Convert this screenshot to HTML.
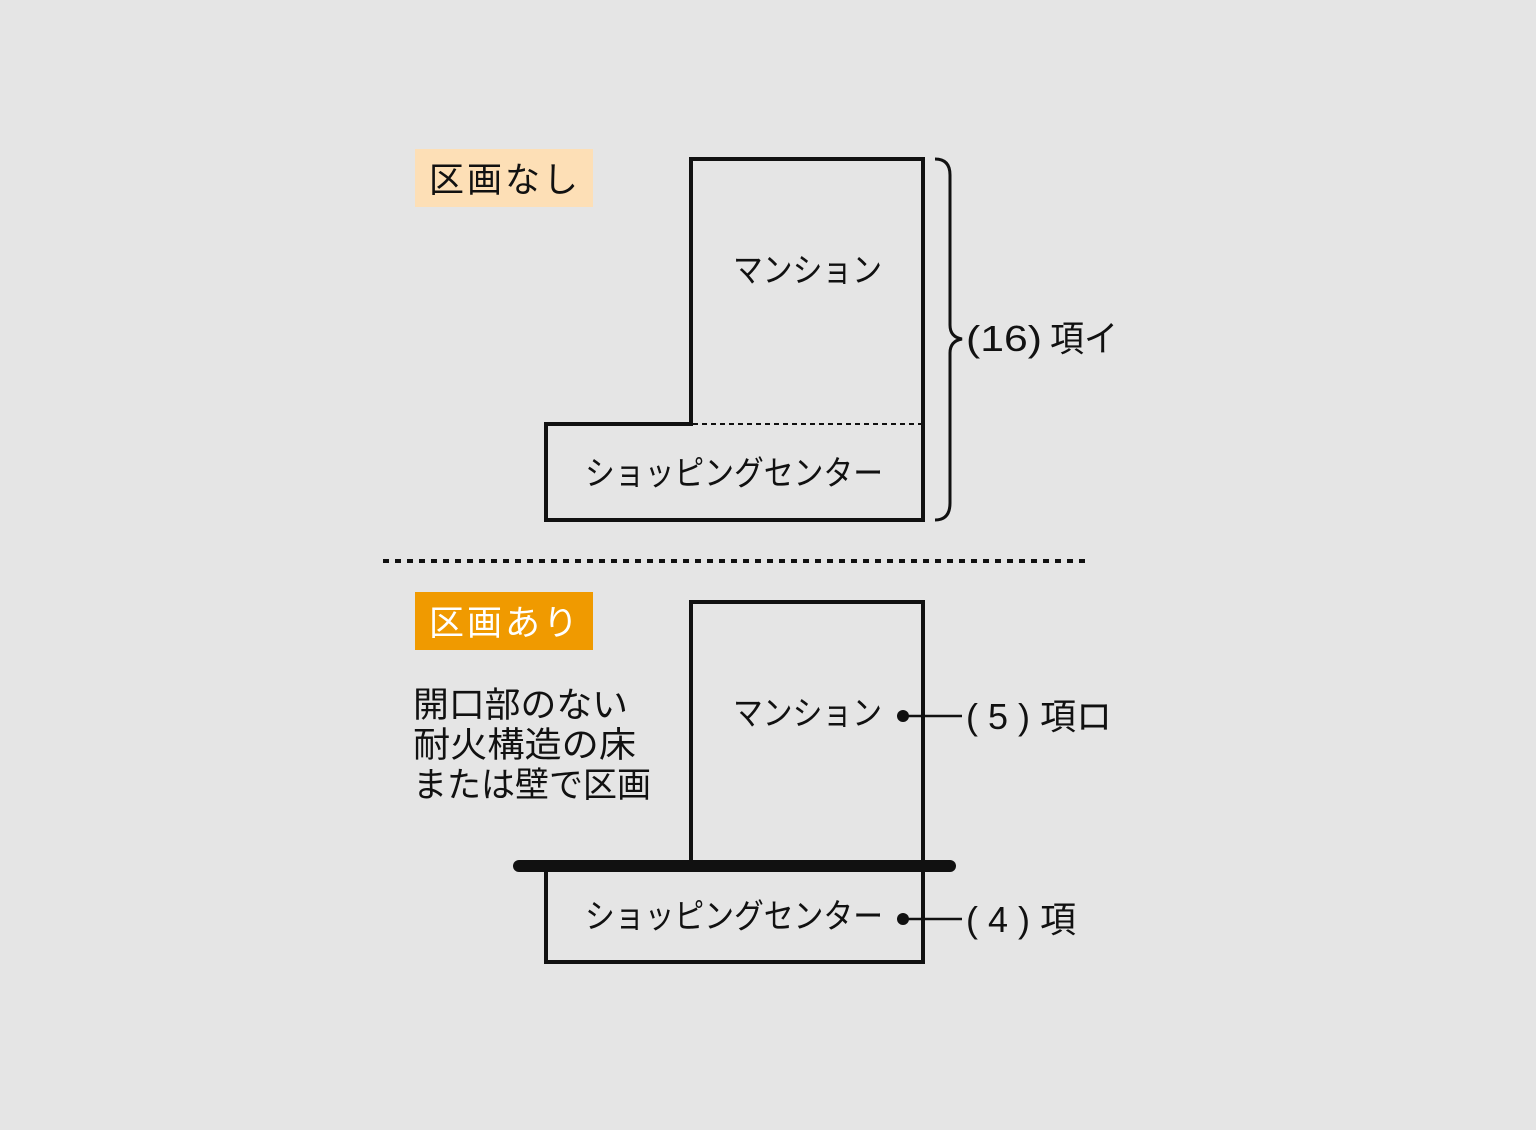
<!DOCTYPE html>
<html><head><meta charset="utf-8"><style>
html,body{margin:0;padding:0;background:#e5e5e5;}
svg text{font-family:"Liberation Sans","Noto Sans CJK JP",sans-serif;fill:#111;}
</style></head><body>
<svg width="1536" height="1125" viewBox="0 0 1536 1125" xmlns="http://www.w3.org/2000/svg">
<rect width="1536" height="1125" fill="#e5e5e5"/>
<rect x="415" y="149" width="178" height="58" fill="#fddfb6"/>
<text x="429" y="192" font-size="35" letter-spacing="3">区画なし</text>
<polygon points="691,159 923,159 923,520 546,520 546,424 691,424" fill="none" stroke="#111" stroke-width="4"/>
<line x1="693" y1="424" x2="921" y2="424" stroke="#111" stroke-width="2" stroke-dasharray="5,4"/>
<text x="733" y="282" font-size="34" textLength="149" lengthAdjust="spacingAndGlyphs">マンション</text>
<text x="585" y="485" font-size="34" textLength="298" lengthAdjust="spacingAndGlyphs">ショッピングセンター</text>
<path d="M935,159 Q950,159 950,175 L950,325 Q950,337 962,339 Q950,341 950,353 L950,503 Q950,520 935,520" fill="none" stroke="#111" stroke-width="3"/>
<text x="966" y="351" font-size="36" textLength="76" lengthAdjust="spacingAndGlyphs">(16)</text>
<text x="1050" y="351" font-size="36" textLength="68" lengthAdjust="spacingAndGlyphs">項イ</text>
<line x1="383" y1="561" x2="1088" y2="561" stroke="#111" stroke-width="4" stroke-dasharray="6,6"/>
<rect x="415" y="592" width="178" height="58" fill="#f09a00"/>
<text x="429" y="635" font-size="35" letter-spacing="3" style="fill:#fff">区画あり</text>
<text x="413" y="717" font-size="35" textLength="215" lengthAdjust="spacingAndGlyphs">開口部のない</text>
<text x="413" y="757" font-size="35" textLength="223" lengthAdjust="spacingAndGlyphs">耐火構造の床</text>
<text x="413" y="797" font-size="35" textLength="238" lengthAdjust="spacingAndGlyphs">または壁で区画</text>
<rect x="691" y="602" width="232" height="264" fill="none" stroke="#111" stroke-width="4"/>
<rect x="546" y="866" width="377" height="96" fill="none" stroke="#111" stroke-width="4"/>
<line x1="519" y1="866" x2="950" y2="866" stroke="#111" stroke-width="12" stroke-linecap="round"/>
<text x="733" y="725" font-size="34" textLength="149" lengthAdjust="spacingAndGlyphs">マンション</text>
<text x="585" y="928" font-size="34" textLength="298" lengthAdjust="spacingAndGlyphs">ショッピングセンター</text>
<circle cx="903" cy="716" r="6" fill="#111"/>
<line x1="903" y1="716" x2="962" y2="716" stroke="#111" stroke-width="2.5"/>
<text x="966" y="729" font-size="36">(</text><text x="988" y="729" font-size="36">5</text><text x="1018" y="729" font-size="36">)</text>
<text x="1040" y="729" font-size="36" textLength="72" lengthAdjust="spacingAndGlyphs">項ロ</text>
<circle cx="903" cy="919" r="6" fill="#111"/>
<line x1="903" y1="919" x2="962" y2="919" stroke="#111" stroke-width="2.5"/>
<text x="966" y="932" font-size="36">(</text><text x="988" y="932" font-size="36">4</text><text x="1018" y="932" font-size="36">)</text>
<text x="1040" y="932" font-size="36">項</text>
</svg>
</body></html>
